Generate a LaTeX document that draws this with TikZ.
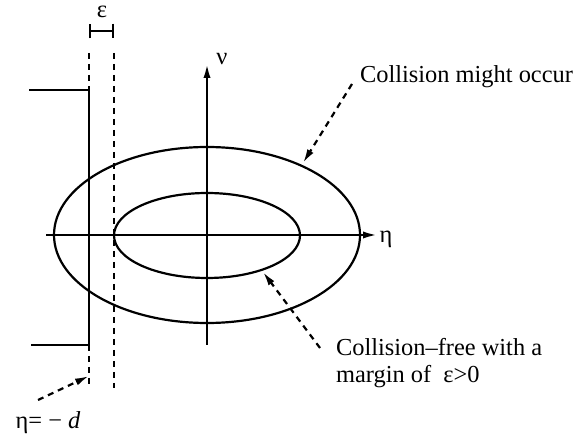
\documentclass[tikz,border=0pt]{standalone}
\usepackage{fontspec}
\setmainfont{Liberation Serif}
\usetikzlibrary{arrows.meta}

\begin{document}
\begin{tikzpicture}[x=0.5pt,y=-0.5pt,line width=1.1pt]
			\tikzstyle{every node}+=[inner sep=0pt]
			\tikzstyle{dashline}=[dash pattern=on 3pt off 2.5pt]
			\tikzstyle{lbl}=[font=\fontsize{12.2}{13.5}\selectfont]
			\tikzstyle{tip}=[-{Latex[length=7pt,width=3.6pt]}]
			\useasboundingbox (0,0) rectangle (583,437);
			% axes
			\coordinate (axL) at (46,235);
			\coordinate (axR) at (377,235);
			\coordinate (axB) at (207,345);
			\coordinate (axT) at (207,64);
			\draw [tip] (axL) -- (axR);
			\draw [tip] (axB) -- (axT);
			\node [lbl] (eta) at (386,239) {η};
			\node [lbl] (nu) at (222,59) {ν};
			% the two regions
			\draw (207,235) ellipse (153 and 88);
			\draw (207,235.5) ellipse (93 and 42.5);
			% wall
			\coordinate (wTL) at (29,90);
			\coordinate (wT) at (89,90);
			\coordinate (wB) at (89,345);
			\coordinate (wBL) at (31,345);
			\draw (wTL) -- (wT) -- (wB) -- (wBL);
			\draw [dashline] (89,53) -- (wT);
			\draw [dashline] (wB) -- (89,388);
			\draw [dashline] (114,53) -- (114,388);
			% margin
			\coordinate (e1) at (89,31);
			\coordinate (e2) at (114,31);
			\draw [|-|] (e1) -- (e2);
			\node [lbl] (eps) at (102,12) {ε};
			% labels
			\node [lbl,anchor=west] (occ) at (359,77) {Collision might occur};
			\node [lbl,anchor=north west,align=left] (free) at (335,337) {Collision–free with a\\margin of \ ε>0};
			\node [lbl] (wall) at (48,423) {η= − \textit{d}};
			% pointers
			\coordinate (sOcc) at (352,84);
			\coordinate (sFree) at (320,348);
			\coordinate (sWall) at (38,400);
			\coordinate (pOcc) at (303,163);
			\coordinate (pFree) at (263,272);
			\coordinate (pWall) at (89,376);
			\draw [dashline,tip] (sOcc) -- (pOcc);
			\draw [dashline,tip] (sFree) -- (pFree);
			\draw [dashline,tip] (sWall) -- (pWall);
		\end{tikzpicture}
\end{document}
